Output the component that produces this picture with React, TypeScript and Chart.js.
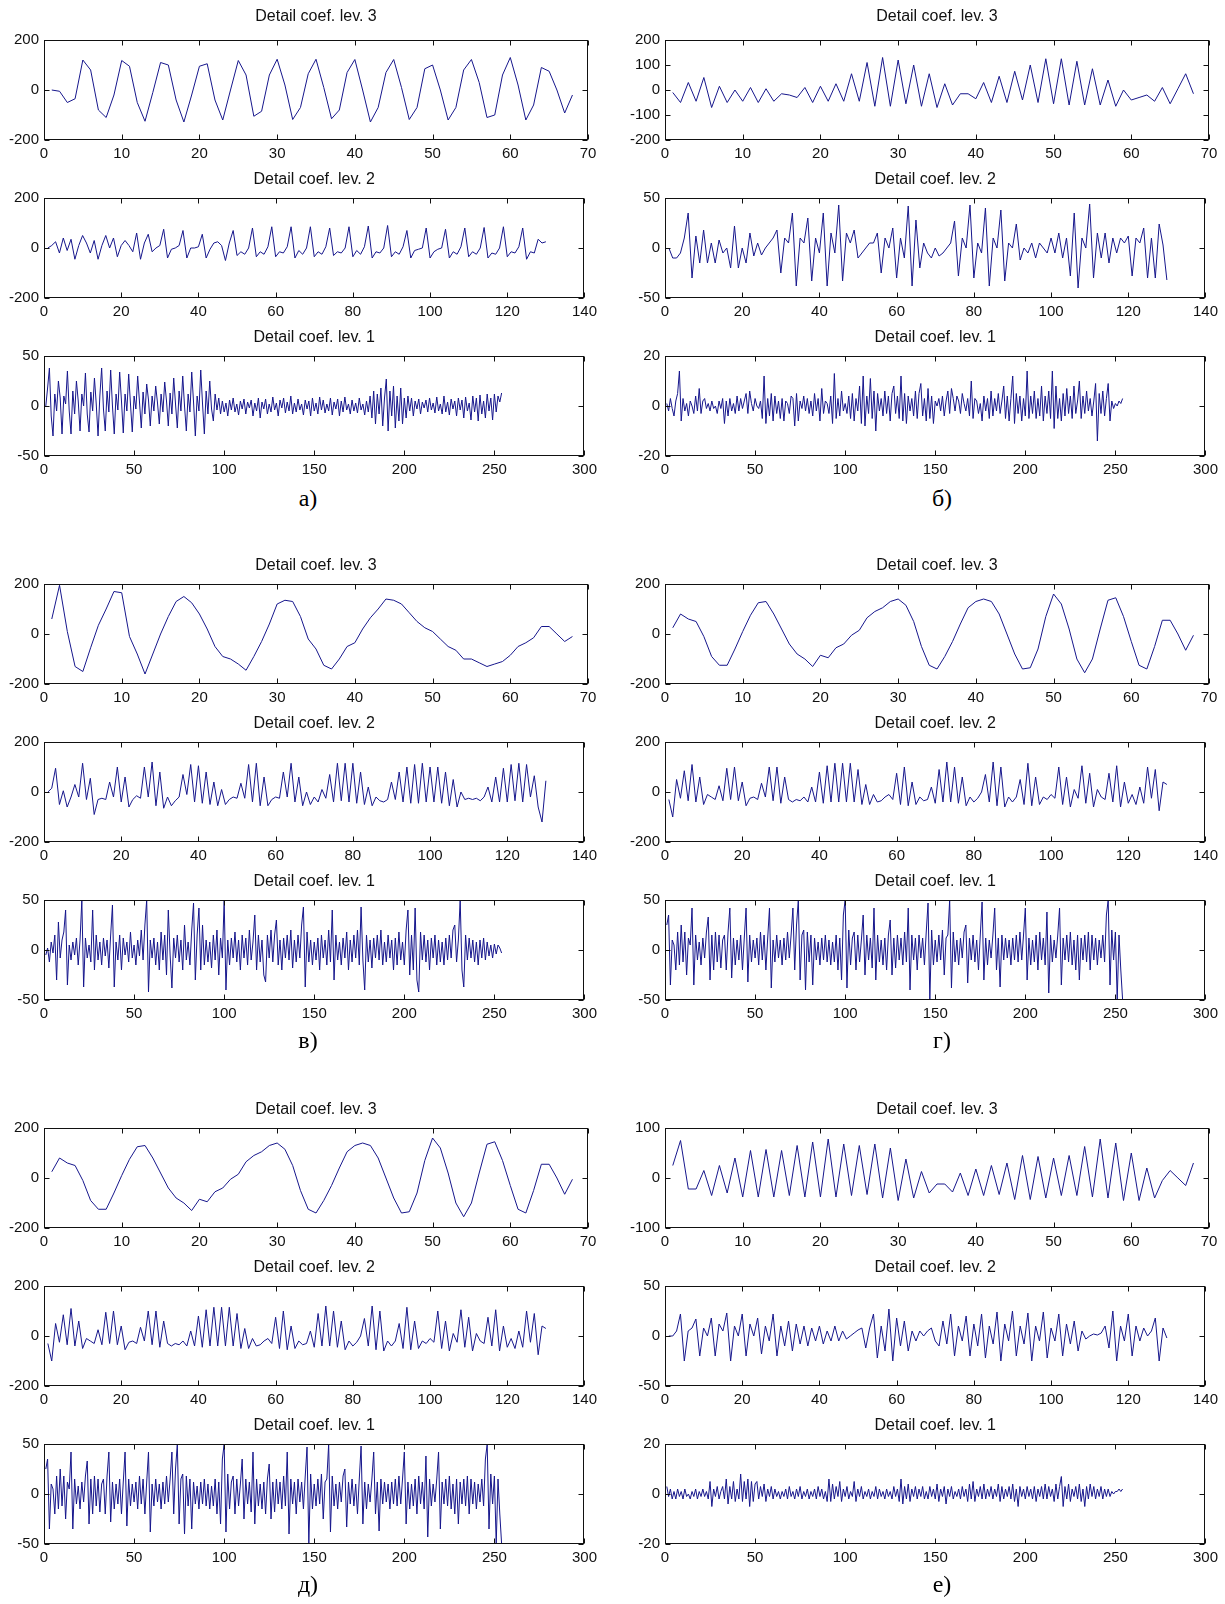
import React, { useEffect, useRef } from "react";
import { Chart, registerables } from "chart.js";

Chart.register(...registerables);

// ---------- data ----------
// panel а)
const a_lev3 = [
  0, -5, -50, -35, 120, 80, -80, -110, -20, 118,
  95, -50, -125, -10, 110, 100, -40, -128, -20, 95,
  105, -40, -120, 0, 118, 60, -105, -85, 60, 123,
  20, -118, -70, 65, 123, 10, -115, -80, 70, 122,
  0, -128, -70, 70, 122, 10, -118, -70, 85, 100,
  0, -120, -70, 80, 122, 30, -110, -100, 60, 130,
  20, -120, -60, 90, 75, 0, -92, -20,
];
const a_lev2 = [
  0, 10, 25, -20, 40, -10, 35, -45, 10, 50,
  20, -20, 30, -45, 10, 50, 0, 40, -35, 10,
  30, 10, -15, 60, -45, 20, 55, -15, 0, 10,
  75, -40, -5, 0, 10, 70, -40, 0, 0, 5,
  55, -40, -5, 20, 25, 10, -50, 20, 70, -30,
  -15, -25, 0, 80, -35, -15, -25, 5, 85, -35,
  -15, -20, 5, 85, -40, -10, -25, 0, 85, -35,
  -15, -25, 5, 80, -30, -15, -20, 0, 85, -35,
  -10, -25, 5, 88, -40, -15, -20, 0, 90, -35,
  -15, -25, 5, 70, -40, -10, -5, 0, 80, -40,
  -15, -5, 0, 75, -40, -15, -25, 5, 80, -35,
  -15, -25, 0, 82, -40, -20, -25, 0, 85, -35,
  -15, -20, 5, 80, -45, -15, -20, 35, 20, 25,
];
const a_lev1 = [
  0, 18, 38, -10, -30, 12, -5, 25, 8, -28,
  10, 2, 35, -5, -28, 15, -8, 25, 5, -25,
  12, 0, 33, -8, -26, 14, -5, 28, 2, -30,
  10, 38, -3, -25, 15, -6, 36, 0, -28, 12,
  -4, 34, 5, -27, 12, -5, 32, 2, -26, 10,
  -3, 30, 4, -22, 14, -8, 22, 6, -20, 10,
  -5, 20, 3, -18, 12, -6, 24, 5, -20, 13,
  -8, 28, 2, -22, 15, -5, 30, 0, -25, 12,
  -6, 34, 4, -30, 10, -5, 36, 2, -28, 15,
  -8, 25, -3, -15, 12, -4, 8, -8, 5, -6,
  3, -10, 6, -4, 8, -6, 2, -9, 5, -3,
  7, -8, 4, -2, 6, -10, 3, -5, 8, -12,
  4, -3, 7, -8, 2, -6, 9, -4, 3, -10,
  6, -2, 8, -7, 4, -5, 10, -8, 3, -6,
  7, -4, 2, -9, 6, -3, 5, -10, 8, -5,
  3, -8, 9, -4, 6, -7, 2, -5, 8, -9,
  4, -3, 7, -10, 5, -6, 9, -4, 2, -8,
  6, -5, 3, -7, 8, -4, 2, -9, 5, -6,
  10, -12, 15, -18, 12, -8, 18, -20, 8, 27,
  -25, 15, -10, 20, -22, 10, -15, 18, -18, 8,
  -12, 10, -5, 8, -10, 5, -3, 7, -8, 4,
  -2, 6, -6, 8, -4, 3, -7, 9, -5, 2,
  -8, 10, -6, 4, -9, 7, -3, 5, -10, 8,
  -4, 6, -12, 9, -5, 3, -14, 10, -6, 8,
  -15, 11, -8, 5, -12, 12, -5, 8, -14, 12,
  -6, 10, 4, 13,
];

// panel б)
const b_lev3 = [
  -10, -50, 30, -45, 50, -70, 15, -50, 0, -45,
  10, -50, 5, -45, -15, -20, -30, 10, -50, 15,
  -45, 25, -45, 65, -45, 110, -65, 130, -65, 120,
  -55, 100, -65, 65, -70, 25, -60, -15, -15, -35,
  30, -50, 55, -50, 75, -40, 100, -50, 125, -55,
  125, -60, 115, -60, 85, -60, 40, -65, 0, -40,
  -30, -20, -45, 10, -55, 5, 65, -15,
];
const b_lev2 = [
  0, -10, -10, -5, 10, 35, -30, 12, -15, 18,
  -15, 5, -15, 8, -5, 0, -20, 22, -20, 0,
  -15, 15, -8, 5, -7, 0, 5, 10, 18, -25,
  10, 5, 35, -38, 10, 5, 30, -33, 10, -5,
  35, -38, 15, -5, 43, -33, 15, 5, 18, -10,
  -5, 0, 5, 5, 15, -25, 10, 0, 20, -30,
  10, -10, 42, -38, 28, -20, 5, -5, -10, 0,
  -8, -5, 0, 5, 27, -28, 10, 0, 43, -30,
  5, -5, 40, -38, 10, 0, 38, -33, 5, 0,
  24, -12, 0, -5, 5, -10, 5, 0, -5, 10,
  -5, 15, -10, 10, -28, 35, -40, 10, 0, 44,
  -30, 15, -10, 15, -15, 10, -5, 10, 5, 12,
  -28, 10, 5, 20, -30, 10, -30, 24, 3, -32,
];
const b_lev1 = [
  1, -2, 3, -1, -4, 2, 5, 14, -6, 3,
  -2, 1, -4, 2, 0, -3, 4, -2, 7, -3,
  2, 3, -1, 1, -2, 2, -1, 0, -3, 2,
  -1, 3, -7, 2, -4, 3, -2, 1, -3, 4,
  -2, 3, -1, 2, 5, -3, 6, 1, -2, 3,
  0, -1, 2, -5, 12, -7, 3, -4, 5, -6,
  4, -3, 2, -5, 3, -6, 2, 1, -3, 4,
  3, -8, 5, -6, 2, -1, 4, -2, 3, -3,
  2, -4, 5, -2, 3, -6, 7, -3, 2, 1,
  -3, 4, -7, 13, -5, 3, -4, 6, -2, 1,
  -3, 4, -5, 5, -6, 3, -2, 8, -7, 12,
  -8, 4, -3, 11, -5, 6, -10, 5, -2, 3,
  -4, 6, -3, 4, -6, 5, 8, -3, 4, -5,
  12, -6, 5, -7, 4, -2, 3, -4, 6, -5,
  5, 9, -4, 3, -6, 7, -5, 4, -7, 2,
  0, 3, -2, 4, -4, 2, 6, -3, 7, 3,
  -2, 4, 2, -3, 5, 1, -2, 3, -4, 10,
  -5, 3, 2, -3, 1, -6, 4, -2, 3, -5,
  6, -4, 3, -2, 5, -3, 2, 8, -5, 4,
  -6, 3, 12, -7, 5, -3, 4, -6, 3, -4,
  14, -5, 4, -3, 6, -5, 3, -4, 8, -6,
  4, -3, 6, -5, 14, -9, 8, -5, 3, -6,
  5, -4, 7, -3, 4, -5, 8, -3, 2, 10,
  -5, 4, -3, 6, -2, 3, -4, 2, 9, -14,
  5, -3, 6, -4, 3, 9, -6, 2, -1, 1,
  0, 2, 1, 3,
];

// panel в)
const v_lev3 = [
  60, 195, 10, -130, -150, -55, 35, 100, 170, 165,
  -10, -80, -160, -80, 0, 70, 130, 150, 125, 80,
  20, -50, -90, -100, -120, -145, -90, -30, 40, 120,
  135, 130, 70, -20, -60, -125, -140, -100, -50, -35,
  20, 65, 100, 140, 135, 120, 85, 50, 25, 10,
  -20, -50, -65, -100, -100, -115, -130, -120, -110, -85,
  -50, -35, -15, 30, 30, 0, -30, -10,
];
const v_lev2 = [
  0, 15, 95, -50, 5, -60, -20, 30, -20, 115,
  -30, 55, -90, -30, -25, -30, 40, -20, 100, -40,
  60, -60, -30, -15, -25, 100, -20, 120, -55, 80,
  -65, -20, -55, -35, -20, 70, -10, 110, -40, 105,
  -45, 80, -50, 40, -55, 10, -50, -30, -20, -25,
  35, -25, 110, -40, 115, -55, 60, -55, -30, -20,
  -25, 80, -20, 115, -40, 60, -55, 0, -50, -20,
  -40, 10, -25, 70, -40, 115, -35, 115, -40, 115,
  -45, 80, -50, 20, -55, -20, -35, -40, -30, 40,
  -30, 80, -40, 100, -45, 110, -45, 115, -40, 100,
  -40, 100, -45, 80, -55, 50, -60, 0, -30, -25,
  -30, -25, -35, -20, 20, -40, 60, -40, 95, -40,
  110, -35, 115, -40, 110, -20, 65, -60, -120, 45,
];
const v_lev1 = [
  -5, 2, -12, 8, -3, 15, -30, 28, -8, 10,
  18, 40, -35, 5, -10, 8, -5, 12, -15, 10,
  50, -37, 12, -8, 5, -12, 40, -20, 15, -10,
  8, -15, 12, -6, 10, -18, 15, 45, -37, 8,
  -10, 15, -20, 12, -5, 8, -12, 18, -8, 5,
  -15, 10, -6, 20, -10, 25, 50, -42, 10, -8,
  12, -15, 8, -20, 18, -10, 15, -25, 40, -5,
  -38, 12, -8, 15, -12, 10, -20, 25, -10, 8,
  -15, 20, 47, -30, 15, 42, -20, 25, -15, 10,
  -12, 8, -18, 15, -10, 20, -25, 12, -8, 50,
  -40, 10, -15, 12, -8, 18, -12, 10, -20, 15,
  -8, 12, -15, 20, -10, 8, 35, -20, 15, -12,
  10, -25, -32, 15, -8, 20, -12, 15, 30, -15,
  10, -20, 12, -8, 15, -10, 20, -18, 10, -12,
  15, -8, 25, 43, -37, 18, -12, 10, -15, 8,
  -10, 12, -20, 15, -8, 10, -15, 20, -12, 40,
  -30, 15, -10, 8, -15, 12, -8, 18, -20, 10,
  -12, 15, -8, 20, -15, 43, -10, -40, 15, -12,
  10, -18, 12, -8, 15, -10, 20, -15, 8, -12,
  15, -8, 10, -20, 12, -15, 18, -10, 8, -15,
  20, 40, -25, 15, -20, 42, -30, -42, 18, -10,
  15, -12, 10, -20, 12, -8, 15, -15, 10, -12,
  8, -15, 12, -10, 15, -8, 20, 25, -12, 10,
  50, -20, -37, 15, -10, 12, -8, 10, -12, 8,
  -15, 10, -8, 12, -10, 8, -6, 5, -8, 6,
  -4, 5, 2, -3,
];

// panels г) and д) (identical in the picture)
const g_lev3 = [
  25, 80, 60, 50, -10, -90, -125, -125, -60, 10,
  75, 125, 130, 80, 20, -40, -80, -100, -130, -85,
  -95, -55, -40, -5, 15, 65, 90, 105, 130, 140,
  115, 50, -50, -125, -140, -90, -30, 40, 105, 130,
  140, 130, 80, 0, -80, -140, -135, -60, 70, 160,
  120, 20, -100, -155, -100, 20, 135, 145, 70, -30,
  -125, -140, -50, 55, 55, 0, -65, -5,
];
const g_lev2 = [
  -30, -100, 50, -25, 85, -35, 110, -40, 60, -50,
  -10, -20, -30, 25, -35, 95, -30, 100, -35, 40,
  -55, -25, -20, -30, 35, -20, 100, -35, 100, -45,
  60, -30, -40, -30, -35, -20, -40, 20, -40, 80,
  -45, 105, -40, 115, -40, 115, -40, 115, -40, 90,
  -50, 30, -50, -10, -40, -35, -20, -10, -30, 75,
  -50, 100, -55, 40, -50, -20, -35, -30, 20, -45,
  90, -40, 120, -40, 100, -45, 60, -55, -20, -40,
  -25, 0, 70, -40, 120, -55, 100, -60, -20, -40,
  -20, 50, -50, 115, -55, 60, -50, -20, -30, -10,
  -25, 100, -50, 60, -60, 10, -25, 105, -45, 75,
  -60, 10, -20, -30, 75, -40, 105, -60, 40, -45,
  -10, -50, 20, -45, 100, -25, 90, -75, 40, 30,
];
const g_lev1 = [
  25, 35, -35, 10, 5, -20, 18, -15, 25, -12,
  18, -25, 12, 5, 42, -35, 15, -10, 8, -15,
  12, -8, 18, 33, -30, 15, -20, 18, -12, 15,
  -18, 10, 15, -20, 18, 42, -28, 12, -15, 10,
  -10, 15, -20, 12, 42, -32, 15, -12, 10, -8,
  12, -15, 18, -10, 15, -20, 12, 42, -38, 10,
  -12, 15, -8, 10, -15, 12, -10, 18, -8, 15,
  42, -20, 25, 50, -30, 15, 20, -40, 18, -12,
  15, -35, 12, -10, 8, -15, 12, -10, 15, -12,
  10, -15, 8, -12, 15, -20, 12, -30, 35, 50,
  -38, 20, -15, 12, 18, -20, 15, -12, 10, 35,
  -25, 15, -10, 12, -18, 42, -30, 15, -12, 10,
  -15, 12, -20, 15, 30, -25, 12, -18, 15, -10,
  12, -15, 18, -12, 42, -40, 15, -10, 12, -20,
  15, -8, 12, -15, 18, 47, -50, 20, -15, 10,
  -12, 15, -10, 20, -25, 12, 15, 50, -38, 18,
  -12, 10, -15, 12, -8, 18, 25, -33, 12, -10,
  15, -12, 10, -20, 15, 48, -30, 12, -15, 10,
  -8, 15, 42, -20, 12, -37, 15, -10, 12, -8,
  10, -15, 12, -10, 15, -12, 18, -10, 15, 42,
  -30, 12, -15, 10, -12, 15, -20, 18, -10, 12,
  -15, 38, -43, 15, -12, 10, -8, 15, 42, -35,
  12, -10, 15, -12, 18, -15, 10, -20, 15, -30,
  12, -10, 15, -12, 18, -20, 15, -10, 12, -15,
  10, -8, 15, -12, 35, 50, -35, 20, -10, 18,
  -50, 15, -20, -50,
];
const d_lev3 = g_lev3;
const d_lev2 = g_lev2;
const d_lev1 = g_lev1;

// panel е)
const e_lev3 = [
  25, 75, -22, -22, 15, -35, 25, -30, 40, -38,
  55, -38, 57, -38, 55, -35, 65, -38, 72, -38,
  78, -38, 68, -35, 65, -33, 68, -40, 60, -45,
  38, -40, 13, -30, -12, -12, -28, 10, -35, 18,
  -35, 25, -33, 30, -43, 45, -43, 43, -40, 40,
  -35, 45, -35, 63, -38, 78, -40, 70, -45, 50,
  -45, 20, -40, -5, 15, 0, -15, 30,
];
const e_lev2 = [
  0, 0, 5, 22, -25, 5, 8, 17, -20, 8,
  0, 18, -20, 12, 5, 23, -25, 10, 0, 22,
  -20, 12, 0, 18, -18, 10, -5, 22, -20, 10,
  -10, 15, -15, 12, -8, 10, -10, 8, -5, 10,
  -8, 5, -5, 10, -5, 5, -3, 0, 3, 6,
  8, -12, 8, 22, -22, 10, -15, 27, -25, 18,
  -10, 15, -15, 5, -5, 5, 0, 5, 8, -5,
  -10, 15, -8, 22, -20, 10, -5, 20, -20, 12,
  -10, 22, -22, 10, -8, 24, -25, 12, -5, 25,
  -20, 10, -8, 23, -25, 10, -5, 24, -22, 8,
  -5, 22, -20, 12, -8, 15, -15, 5, -3, 0,
  2, 1, 3, 10, -12, 25, -25, 10, -5, 22,
  -20, 10, -5, 8, 0, 5, 18, -25, 8, -2,
];
const e_lev1 = [
  3, -1, 2, -2, 1, -2, 2, -1, 1, -2,
  2, -1, 0, -2, 1, -1, 2, -2, 1, -1,
  2, -1, 1, -2, 5, -5, 2, -1, 3, -2,
  1, 3, -2, 6, -4, 3, -2, 5, -3, 2,
  -2, 8, -3, 5, -2, 6, -5, 5, -3, 4,
  5, -2, 3, -1, 4, -3, 2, -1, 3, -2,
  2, -1, 1, -2, 1, -1, 2, -2, 3, -1,
  1, -2, 2, -1, 3, -2, 1, -1, 2, -2,
  1, -1, 2, -2, 3, -1, 2, -2, 1, -3,
  6, -3, 4, -2, 3, -1, 5, -3, 2, -1,
  3, -2, 1, -1, 5, -3, 2, -1, 3, -2,
  1, -1, 2, -2, 1, -1, 3, -2, 2, -1,
  1, -2, 2, -1, 1, -2, 3, -1, 2, -3,
  6, -4, 3, -2, 4, -3, 2, -1, 3, -2,
  2, -1, 3, -2, 1, -2, 3, -1, 2, -2,
  4, -3, 2, -1, 3, -4, 2, -1, 3, -2,
  1, -1, 2, -2, 3, -1, 2, -3, 4, -2,
  5, -3, 2, -1, 3, -2, 4, -2, 2, -1,
  3, -2, 2, -1, 4, -3, 3, -2, 2, -1,
  3, -2, 4, -3, 2, -5, 3, -1, 2, -2,
  3, -1, 2, -2, 3, -3, 2, -1, 3, -2,
  4, -2, 3, -1, 2, -3, 4, -2, 3, 7,
  -5, 3, -2, 4, -3, 2, -1, 3, -2, 4,
  -3, 2, -5, 3, -2, 4, -1, 3, -2, 2,
  -1, 3, -2, 2, -1, 2, -1, 1, 0, 1,
  1, 2, 1, 2,
];

// ---------- panel / axis settings ----------
const panelLabels = ["а)", "б)", "в)", "г)", "д)", "е)"];
const titles = ["Detail coef. lev. 3", "Detail coef. lev. 2", "Detail coef. lev. 1"];
const xMaxes = [70, 140, 300];
const xSteps = [10, 20, 50];
const panelSeries = [
  [a_lev3, a_lev2, a_lev1],
  [b_lev3, b_lev2, b_lev1],
  [v_lev3, v_lev2, v_lev1],
  [g_lev3, g_lev2, g_lev1],
  [d_lev3, d_lev2, d_lev1],
  [e_lev3, e_lev2, e_lev1],
];
const panelYMax = [
  [200, 200, 50],
  [200, 50, 20],
  [200, 200, 50],
  [200, 200, 50],
  [200, 200, 50],
  [100, 50, 20],
];
const panelYStep = [
  [200, 200, 50],
  [100, 50, 20],
  [200, 200, 50],
  [200, 200, 50],
  [200, 200, 50],
  [100, 50, 20],
];

// ---------- layout ----------
const FONT = "'Liberation Sans', Arial, Helvetica, sans-serif";
const LINE = "#16168c";
const BOX_W = 544;
const BOX_H = 100;
const COL_X = [44, 665];
const ROW_Y = [0, 544, 1088];
const LEV_Y = [40, 198, 356];
const PADL = 44;
const PADR = 14;
const PADB = 26;
const TITLE_SIZE = 16;
const TITLE_LH = TITLE_SIZE * 1.2;
const TITLE_PAD_TOP = 2.4;
const LABEL_X = [308, 942];
const LABEL_Y = [498, 1040, 1584];

const boxPlugin = {
  id: "matlabBox",
  afterDatasetsDraw(chart: any) {
    const { ctx, chartArea, scales } = chart;
    const L = Math.round(chartArea.left) + 0.5;
    const R = Math.round(chartArea.right) - 0.5;
    const T = Math.round(chartArea.top) + 0.5;
    const B = Math.round(chartArea.bottom) - 0.5;
    ctx.save();
    ctx.strokeStyle = "#111";
    ctx.lineWidth = 1;
    ctx.strokeRect(L, T, R - L, B - T);
    ctx.beginPath();
    const tk = 5;
    scales.x.ticks.forEach((t: any) => {
      const px = Math.round(scales.x.getPixelForValue(t.value)) + 0.5;
      ctx.moveTo(px, B);
      ctx.lineTo(px, B - tk);
      ctx.moveTo(px, T);
      ctx.lineTo(px, T + tk);
    });
    scales.y.ticks.forEach((t: any) => {
      const py = Math.round(scales.y.getPixelForValue(t.value)) + 0.5;
      ctx.moveTo(L, py);
      ctx.lineTo(L + tk, py);
      ctx.moveTo(R, py);
      ctx.lineTo(R - tk, py);
    });
    ctx.stroke();
    ctx.restore();
  },
};

type SubProps = {
  title: string;
  data: number[];
  xMax: number;
  xStep: number;
  yMax: number;
  yStep: number;
  left: number;
  top: number;
  gap: number; // distance from title centre to box top
};

function SubPlot(p: SubProps) {
  const ref = useRef<HTMLCanvasElement | null>(null);
  const padBottom = p.gap - TITLE_LH / 2;
  const PADT = Math.round(TITLE_PAD_TOP + TITLE_LH + padBottom);
  const W = BOX_W + PADL + PADR;
  const H = BOX_H + PADT + PADB;
  useEffect(() => {
    if (!ref.current) return;
    const tickFont = { family: FONT, size: 15, weight: "normal" as const };
    const chart = new Chart(ref.current, {
      type: "line",
      data: {
        datasets: [
          {
            data: p.data.map((y, i) => ({ x: i + 1, y })),
            borderColor: LINE,
            borderWidth: 1,
            pointRadius: 0,
            tension: 0,
            fill: false,
          },
        ],
      },
      options: {
        responsive: false,
        animation: false,
        events: [],
        layout: { padding: { left: 0, right: PADR, top: 0, bottom: 0 } },
        plugins: {
          legend: { display: false },
          tooltip: { enabled: false },
          title: {
            display: true,
            fullSize: false,
            text: p.title,
            color: "#111",
            font: { family: FONT, size: TITLE_SIZE, weight: "normal" },
            padding: { top: PADT - TITLE_LH - padBottom, bottom: padBottom },
          },
        },
        scales: {
          x: {
            type: "linear",
            min: 0,
            max: p.xMax,
            grid: { display: false, drawTicks: false },
            border: { display: false },
            ticks: {
              stepSize: p.xStep,
              color: "#111",
              font: tickFont,
              padding: 5,
              maxRotation: 0,
              autoSkip: false,
            },
            afterFit: (s: any) => {
              s.height = PADB;
            },
          },
          y: {
            type: "linear",
            min: -p.yMax,
            max: p.yMax,
            grid: { display: false, drawTicks: false },
            border: { display: false },
            ticks: {
              stepSize: p.yStep,
              color: "#111",
              font: tickFont,
              padding: 5,
              autoSkip: false,
            },
            afterFit: (s: any) => {
              s.width = PADL;
            },
          },
        },
      } as any,
      plugins: [boxPlugin],
    });
    return () => chart.destroy();
  }, []);
  return (
    <canvas
      ref={ref}
      width={W}
      height={H}
      style={{ position: "absolute", left: p.left - PADL, top: p.top - PADT, width: W, height: H }}
    />
  );
}

export default function App() {
  const items: React.ReactNode[] = [];
  panelSeries.forEach((series, pi) => {
    const col = pi % 2;
    const row = Math.floor(pi / 2);
    series.forEach((data, li) => {
      items.push(
        <SubPlot
          key={`p${pi}-${li}`}
          title={titles[li]}
          data={data}
          xMax={xMaxes[li]}
          xStep={xSteps[li]}
          yMax={panelYMax[pi][li]}
          yStep={panelYStep[pi][li]}
          left={COL_X[col]}
          top={ROW_Y[row] + LEV_Y[li]}
          gap={row === 0 && li === 0 ? 23 : 18}
        />
      );
    });
    items.push(
      <div
        key={`lbl${pi}`}
        style={{
          position: "absolute",
          left: LABEL_X[col] - 40,
          top: LABEL_Y[row] - 16,
          width: 80,
          height: 32,
          lineHeight: "32px",
          textAlign: "center",
          fontFamily: "'Liberation Serif', 'Times New Roman', serif",
          fontSize: 24,
          color: "#000",
        }}
      >
        {panelLabels[pi]}
      </div>
    );
  });
  return (
    <div
      style={{
        position: "absolute",
        left: 0,
        top: 0,
        width: 1225,
        height: 1604,
        overflow: "hidden",
        background: "#fff",
      }}
    >
      {items}
    </div>
  );
}
